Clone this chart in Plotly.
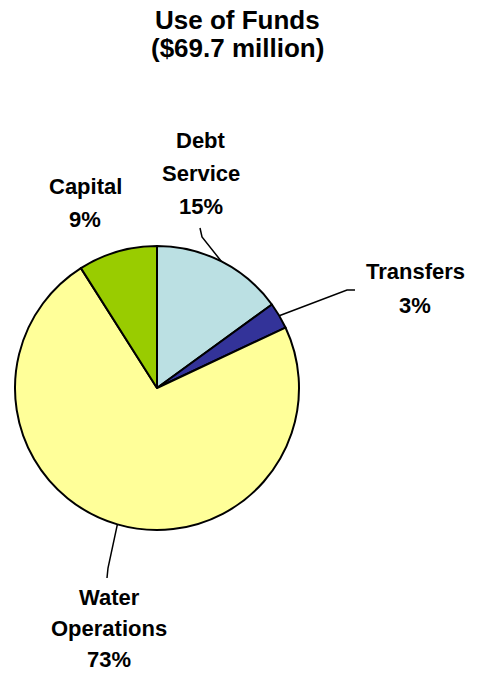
import math
import plotly.graph_objects as go

# --- data -------------------------------------------------------------
categories = ["Debt Service", "Transfers", "Water Operations", "Capital"]
values = [15, 3, 73, 9]          # percent of total use of funds
colors = ["#BBE0E3", "#333399", "#FFFF99", "#99CC00"]
label_words = [["Debt", "Service"], ["Transfers"], ["Water", "Operations"], ["Capital"]]
title_lines = ["Use of Funds", "($69.7 million)"]

# --- geometry (pixels) ------------------------------------------------
W, H = 482, 674
CX, CY, R = 157, 388, 142

# label block centre x, first-line y, and line pitch
label_pos = [(201, 140, 33), (415, 272, 33), (109, 597, 31), (85, 187, 33)]
# leader-line elbows (None = no leader)
leader_pts = [
    [(202, 237), (200, 228)],
    [(347, 290), (355, 290)],
    [(108, 568), (107, 578)],
    None,
]

FONT = "Liberation Sans, Arial, sans-serif"


def px(x):
    return x / W


def py(y):
    return 1 - y / H


fig = go.Figure(
    go.Pie(
        labels=categories,
        values=values,
        sort=False,
        direction="clockwise",
        rotation=0,
        marker=dict(colors=colors, line=dict(color="black", width=2)),
        textinfo="none",
        hoverinfo="label+percent",
        domain=dict(x=[px(CX - R), px(CX + R)], y=[py(CY + R), py(CY - R)]),
        showlegend=False,
    )
)

annotations = []
shapes = []

# title
for i, line in enumerate(title_lines):
    annotations.append(dict(
        x=px(237), y=py(20 + i * 28), xref="paper", yref="paper",
        text=f"<b>{line}</b>", showarrow=False, xanchor="center", yanchor="middle",
        font=dict(family=FONT, size=26, color="black"),
    ))

# slice labels and leaders
total = sum(values)
cum = 0
for k, (cat, v) in enumerate(zip(categories, values)):
    mid = (cum + v / 2) / total * 2 * math.pi
    cum += v
    lines = label_words[k] + [f"{round(v / total * 100)}%"]
    lx, ly, pitch = label_pos[k]
    for j, line in enumerate(lines):
        annotations.append(dict(
            x=px(lx), y=py(ly + j * pitch), xref="paper", yref="paper",
            text=f"<b>{line}</b>", showarrow=False, xanchor="center", yanchor="middle",
            font=dict(family=FONT, size=22, color="black"),
        ))
    if leader_pts[k]:
        ex = CX + R * math.sin(mid)
        ey = CY - R * math.cos(mid)
        pts = [(ex, ey)] + leader_pts[k]
        path = "M " + " L ".join(f"{px(x):.5f},{py(y):.5f}" for x, y in pts)
        shapes.append(dict(type="path", path=path, xref="paper", yref="paper",
                           line=dict(color="black", width=1.5)))

fig.update_layout(
    width=W, height=H,
    margin=dict(l=0, r=0, t=0, b=0),
    paper_bgcolor="white", plot_bgcolor="white",
    annotations=annotations, shapes=shapes,
)

fig.write_html("out.html")
